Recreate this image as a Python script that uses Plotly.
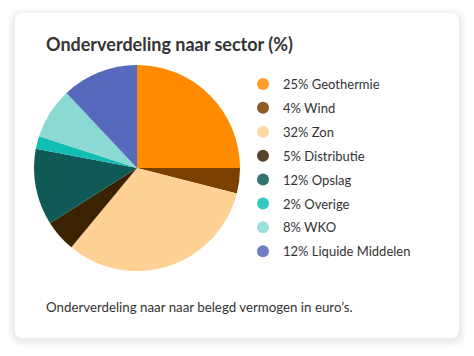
import plotly.graph_objects as go

labels = ["Geothermie", "Wind", "Zon", "Distributie", "Opslag", "Overige", "WKO", "Liquide Middelen"]
values = [25, 4, 32, 5, 12, 2, 8, 12]
colors = ["#FF8C00", "#7B3F00", "#FFD194", "#3B2200", "#0F5A57", "#12BDB6", "#8AD9D3", "#5669BC"]

title_text = "Onderverdeling naar sector (%)"
footnote_text = "Onderverdeling naar naar belegd vermogen in euro’s."

# page body has an 8px margin; work in reference pixel coords and subtract it
OFF = 8
W, H = 474 - OFF, 356 - OFF
FONT = "Lato"


def px(x):
    return (x - OFF) / W


def py(y):
    return 1 - (y - OFF) / H


fig = go.Figure()

fig.add_trace(go.Pie(
    labels=labels, values=values, sort=False, direction="clockwise",
    marker=dict(colors=colors, line=dict(width=0)),
    textinfo="none", hoverinfo="label+percent", showlegend=False,
    domain=dict(x=[px(34), px(240)], y=[py(271), py(65)]),
))

for i, (lab, val, col) in enumerate(zip(labels, values, colors)):
    fig.add_trace(go.Scatter(
        x=[None], y=[None], mode="markers",
        marker=dict(color=col, size=12, opacity=0.85, symbol="circle"),
        name=f"{val}% {lab}", legendgroup=f"g{i}", showlegend=True,
    ))


def rrect(x0, y0, x1, y1, r):
    def p(x, y):
        return f"{px(x):.5f},{py(y):.5f}"
    return (f"M {p(x0 + r, y0)} L {p(x1 - r, y0)} Q {p(x1, y0)} {p(x1, y0 + r)} "
            f"L {p(x1, y1 - r)} Q {p(x1, y1)} {p(x1 - r, y1)} L {p(x0 + r, y1)} "
            f"Q {p(x0, y1)} {p(x0, y1 - r)} L {p(x0, y0 + r)} Q {p(x0, y0)} {p(x0 + r, y0)} Z")


shapes = []
for k, a in [(8, 0.012), (6, 0.015), (4, 0.02), (2, 0.025)]:
    shapes.append(dict(type="path", xref="paper", yref="paper",
                       path=rrect(15 - k, 13 - k + 2, 459 + k, 338 + k + 2, 8 + k),
                       fillcolor=f"rgba(0,0,0,{a})", line=dict(width=0), layer="below"))
shapes.append(dict(type="path", xref="paper", yref="paper",
                   path=rrect(15, 13, 459, 338, 8),
                   fillcolor="#FFFFFF", line=dict(width=0), layer="below"))

annotations = [
    dict(text=f"<b>{title_text}</b>", x=px(44), y=py(44), xref="paper", yref="paper",
         xanchor="left", yanchor="middle", showarrow=False,
         font=dict(family=FONT, size=18, color="#333333")),
    dict(text=footnote_text, x=px(44), y=py(307), xref="paper", yref="paper",
         xanchor="left", yanchor="middle", showarrow=False,
         font=dict(family=FONT, size=13.3, color="#333333")),
]

fig.update_layout(
    width=W, height=H, margin=dict(l=0, r=0, t=0, b=0),
    paper_bgcolor="#FFFFFF", plot_bgcolor="rgba(0,0,0,0)",
    xaxis=dict(visible=False, domain=[0.9, 1]), yaxis=dict(visible=False, domain=[0.9, 1]),
    shapes=shapes, annotations=annotations,
    legend=dict(x=px(243), y=py(69), xanchor="left", yanchor="top",
                font=dict(family=FONT, size=13, color="#333333"),
                bgcolor="rgba(0,0,0,0)", tracegroupgap=4, itemclick=False),
    font=dict(family=FONT),
)

fig.write_html("out.html")
